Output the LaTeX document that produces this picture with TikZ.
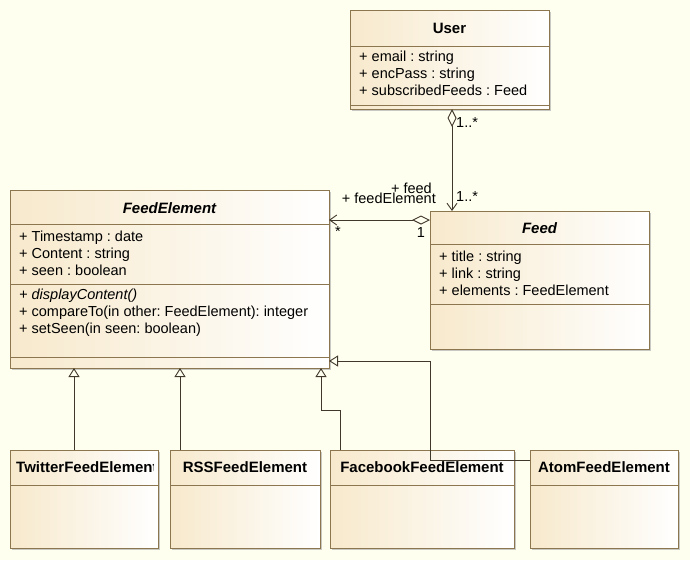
\documentclass[tikz,border=0pt]{standalone}
\usepackage{fontspec}
\setmainfont{Liberation Sans}
\usepackage{xcolor}
\usetikzlibrary{positioning,arrows.meta,shadows}
\definecolor{canvas}{RGB}{255,255,240}
\definecolor{clsfill}{RGB}{247,233,204}
\definecolor{clsline}{RGB}{140,118,80}
\definecolor{wire}{RGB}{64,56,42}
\frenchspacing

\begin{document}
\begin{tikzpicture}[
  x=1pt, y=-1pt,
  every node/.style={font=\fontsize{14.5}{17}\selectfont, inner sep=0pt},
  cls/.style  ={draw=clsline, line width=0.9pt, left color=clsfill,
                right color=white, anchor=north west, outer sep=0pt,
                drop shadow={shadow xshift=2pt, shadow yshift=-2pt,
                             fill=black!35, opacity=0.6}},
  ttl/.style  ={font=\fontsize{15}{17}\selectfont\bfseries},
  attr/.style ={anchor=north west, align=left},
  sepl/.style ={draw=clsline, line width=0.9pt},
  aggr/.style ={draw=wire, line width=0.9pt,
                {Diamond[open,length=18pt,width=9pt]}-{Straight Barb[length=7pt,width=10pt]}},
  gen/.style  ={draw=wire, line width=0.9pt,
                -{Triangle[open,length=9pt,width=11pt]}}
]

\path[use as bounding box, fill=canvas] (0,0) rectangle (690,560);

% classes
\node[cls, minimum width=199pt, minimum height=99pt] (user) at (350,10) {};
\node[ttl] (userName) at (449.5,28) {User};
\draw[sepl] (user.west |- 0,46) -- (user.east |- 0,46);
\node[attr] (userAttr) at (359,51)
     {+ email : string\\+ encPass : string\\+ subscribedFeeds : Feed};
\draw[sepl] (user.west |- 0,105) -- (user.east |- 0,105);

\node[cls, minimum width=319pt, minimum height=178pt] (feedElem) at (10,190) {};
\node[ttl] (feedElemName) at (169.5,208) {\itshape FeedElement};
\draw[sepl] (feedElem.west |- 0,224) -- (feedElem.east |- 0,224);
\node[attr] (feedElemAttr) at (19,231)
     {+ Timestamp : date\\+ Content : string\\+ seen : boolean};
\draw[sepl] (feedElem.west |- 0,284) -- (feedElem.east |- 0,284);
\node[attr] (feedElemOps) at (19,289)
     {\itshape + displayContent()\\
      + compareTo(in other: FeedElement): integer\\
      + setSeen(in seen: boolean)};
\draw[sepl] (feedElem.west |- 0,357) -- (feedElem.east |- 0,357);

\node[cls, minimum width=219pt, minimum height=138pt] (feed) at (430,211) {};
\node[ttl] (feedName) at (539.5,228) {\itshape Feed};
\draw[sepl] (feed.west |- 0,244) -- (feed.east |- 0,244);
\node[attr] (feedAttr) at (439,251)
     {+ title : string\\+ link : string\\+ elements : FeedElement};
\draw[sepl] (feed.west |- 0,304) -- (feed.east |- 0,304);

% subclasses
\node[cls, minimum width=148pt, minimum height=98pt] (twitter) at (10,450) {};
\begin{scope}
  \clip (10,450) rectangle (153,485);
  \node[ttl, anchor=west] (twitterName) at (16,467) {TwitterFeedElement};
\end{scope}
\draw[sepl] (twitter.west |- 0,485) -- (twitter.east |- 0,485);

\node[cls, minimum width=150pt, minimum height=98pt] (rss) at (170,450) {};
\node[ttl] (rssName) at (245,467) {RSSFeedElement};
\draw[sepl] (rss.west |- 0,485) -- (rss.east |- 0,485);

\node[cls, minimum width=184pt, minimum height=98pt] (facebook) at (330,450) {};
\node[ttl] (facebookName) at (422,467) {FacebookFeedElement};
\draw[sepl] (facebook.west |- 0,485) -- (facebook.east |- 0,485);

\node[cls, minimum width=148pt, minimum height=98pt] (atom) at (530,450) {};
\node[ttl] (atomName) at (604,467) {AtomFeedElement};
\draw[sepl] (atom.west |- 0,485) -- (atom.east |- 0,485);

% associations
\draw[aggr] (user.south -| 452,0) -- (feed.north -| 452,0);
\node[anchor=west] (subsFrom) at (456,123) {1..*};
\node[anchor=west] (subsTo) at (456,197) {1..*};

\draw[aggr] (feed.west |- 0,220) -- (feedElem.east |- 0,220);
\node (elemFrom) at (421,233) {1};
\node (elemTo) at (338,232) {*};
\node[anchor=east] (roleFeed) at (432,188) {+ feed};
\node[anchor=east] (roleElem) at (436,198) {+ feedElement};

% generalizations
\draw[gen] (twitter.north -| 74,0) -- (feedElem.south -| 74,0);
\draw[gen] (rss.north -| 180,0) -- (feedElem.south -| 180,0);
\draw[gen] (facebook.north -| 340,0) -- ++(0,-40) -| (feedElem.south -| 321,0);
\draw[gen] (atom.west |- 0,460) -| (430,361) -- (feedElem.east |- 0,361);

\end{tikzpicture}
\end{document}
